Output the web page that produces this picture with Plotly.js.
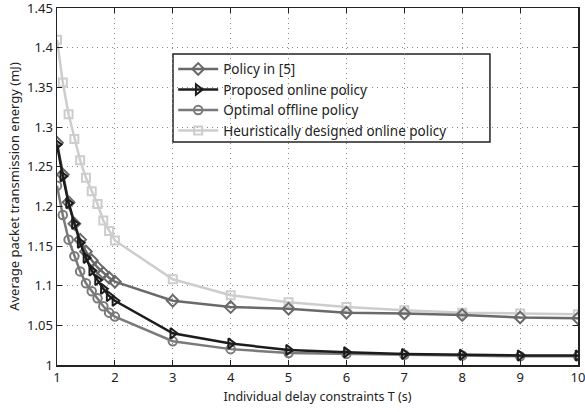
<!DOCTYPE html>
<html>
<head>
<meta charset="utf-8">
<script src="https://cdn.plot.ly/plotly-3.0.1.min.js"></script>
<style>html,body{margin:0;padding:0;background:#fff;}#chart{width:585px;height:412px;}</style>
</head>
<body>
<div id="chart"></div>
<script>
const delayT = [1, 1.1, 1.2, 1.3, 1.4, 1.5, 1.6, 1.7, 1.8, 1.9, 2, 3, 4, 5, 6, 7, 8, 9, 10];
const policy5 = [1.280, 1.240, 1.205, 1.178, 1.158, 1.143, 1.132, 1.123, 1.116, 1.110, 1.105, 1.081, 1.073, 1.071, 1.066, 1.065, 1.063, 1.060, 1.059];
const proposedOnline = [1.278, 1.238, 1.204, 1.178, 1.154, 1.135, 1.119, 1.107, 1.096, 1.087, 1.081, 1.040, 1.027, 1.019, 1.016, 1.014, 1.013, 1.012, 1.012];
const optimalOffline = [1.226, 1.189, 1.158, 1.137, 1.118, 1.103, 1.093, 1.084, 1.074, 1.066, 1.061, 1.030, 1.020, 1.015, 1.014, 1.013, 1.012, 1.011, 1.011];
const heuristicOnline = [1.410, 1.356, 1.316, 1.285, 1.258, 1.236, 1.219, 1.203, 1.182, 1.169, 1.157, 1.108, 1.088, 1.079, 1.073, 1.069, 1.066, 1.065, 1.064];
const seriesNames = ["Policy in [5]", "Proposed online policy", "Optimal offline policy", "Heuristically designed online policy"];
const xTicks = [1, 2, 3, 4, 5, 6, 7, 8, 9, 10];
const yTicks = [1, 1.05, 1.1, 1.15, 1.2, 1.25, 1.3, 1.35, 1.4, 1.45];

const font = "Noto Sans, DejaVu Sans, sans-serif";
function tr(y, name, color, symbol, size, rank) {
  return {
    x: delayT, y: y, name: name, type: "scatter", mode: "lines+markers",
    legendrank: rank,
    line: {color: color, width: 2.5},
    marker: {symbol: symbol, size: size, color: color, line: {color: color, width: 2}}
  };
}
const data = [
  tr(heuristicOnline, seriesNames[3], "#cdcdcd", "square-open", 8, 4),
  tr(optimalOffline, seriesNames[2], "#7a7a7a", "circle-open", 8.5, 3),
  tr(policy5, seriesNames[0], "#6a6a6a", "diamond-open", 9, 1),
  tr(proposedOnline, seriesNames[1], "#1c1c1c", "triangle-right-open", 9, 2)
];
const gridDash = "1px,4px";
const layout = {
  width: 585, height: 412,
  margin: {l: 57, r: 7, t: 8, b: 47},
  paper_bgcolor: "#fff", plot_bgcolor: "#fff",
  showlegend: true,
  legend: {
    x: 0.223, y: 0.872, xanchor: "left", yanchor: "top",
    bgcolor: "rgba(0,0,0,0)", borderwidth: 0,
    font: {family: font, size: 13.5, color: "#222"},
    traceorder: "normal", itemwidth: 40
  },
  shapes: [{
    type: "rect", xref: "paper", yref: "paper", layer: "between",
    x0: 0.2226, x1: 0.831, y0: 0.625, y1: 0.871,
    fillcolor: "#fff", line: {color: "#222", width: 1.5}
  }],
  xaxis: {
    range: [1, 10], tickvals: xTicks, ticktext: xTicks.map(String), ticklabeloverflow: "allow",
    ticks: "inside", ticklen: 5, tickcolor: "#222", showline: true, linecolor: "#222", linewidth: 1.5, mirror: "ticks",
    showgrid: true, gridcolor: "#888", griddash: gridDash, gridwidth: 1, zeroline: false,
    tickfont: {family: font, size: 13, color: "#222"},
    title: {text: "Individual delay constraints T (s)", font: {family: font, size: 12.5, color: "#222"}, standoff: 7}
  },
  yaxis: {
    range: [1, 1.45], tickvals: yTicks, ticktext: yTicks.map(v => String(v)), ticklabeloverflow: "allow",
    ticks: "inside", ticklen: 5, tickcolor: "#222", showline: true, linecolor: "#222", linewidth: 1.5, mirror: "ticks",
    showgrid: true, gridcolor: "#888", griddash: gridDash, gridwidth: 1, zeroline: false,
    tickfont: {family: font, size: 13, color: "#222"},
    title: {text: "Average packet transmission energy (mJ)", font: {family: font, size: 13, color: "#222"}, standoff: 4}
  }
};
Plotly.newPlot("chart", data, layout, {displayModeBar: false, staticPlot: true});
</script>
</body>
</html>
